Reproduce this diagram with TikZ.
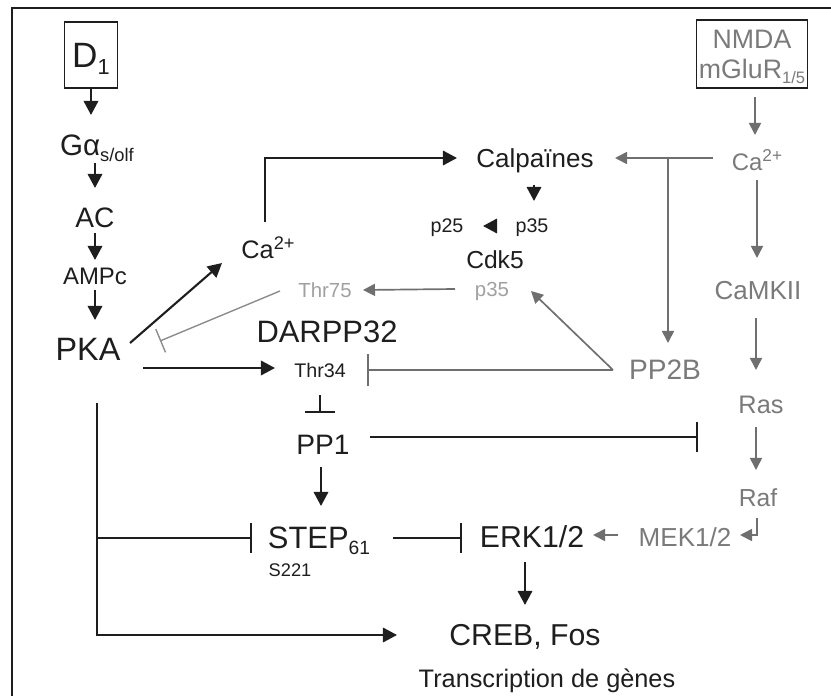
\documentclass[tikz,border=0pt]{standalone}
\usepackage{fontspec}
\setmainfont{Liberation Sans}
\usepackage{graphicx}
\usetikzlibrary{arrows.meta,calc}
\definecolor{ink}{HTML}{1E1E1E}
\definecolor{dimgrey}{HTML}{6F6F6F}
\definecolor{dimtext}{HTML}{7A7A7A}
\definecolor{paletext}{HTML}{A0A0A0}
\definecolor{paleline}{HTML}{8C8C8C}
\newcommand{\lowsc}[1]{\raisebox{-0.2em}{\scalebox{0.62}{#1}}}
\newcommand{\highsc}[1]{\raisebox{0.36em}{\scalebox{0.72}{#1}}}
\tikzset{
  lbl/.style={inner sep=0pt, text depth=0pt, text=ink},
  fs/.style={font=\fontsize{#1}{#1}\selectfont},
  glbl/.style={lbl, text=dimtext},
  plbl/.style={lbl, text=paletext},
  boxed/.style={draw=ink, line width=1.1pt, inner sep=0pt},
  frame/.style={draw=ink, line width=1.8pt},
  arr/.style={-{Triangle[length=3.5mm,width=3.6mm]}, line width=1.5pt, draw=ink},
  garr/.style={-{Triangle[length=3mm,width=3mm]}, line width=1.2pt, draw=dimgrey},
  inh/.style={-{Bar[width=7.5mm]}, line width=1.5pt, draw=ink},
  ginh/.style={-{Bar[width=8mm]}, line width=1.2pt, draw=dimgrey}}

\begin{document}
\begin{tikzpicture}[x=0.025cm, y=-0.025cm]
    \useasboundingbox (0,0) rectangle (831,696);
    \draw[frame] (12,8) rectangle (860,720);
    \node[lbl, boxed, fs=25, minimum width=1.325cm, minimum height=1.65cm] (d1) at (91,55) {D\lowsc{1}};
    \node[lbl, fs=21] (gas) at (97,145) {Gα\lowsc{s/olf}};
    \node[lbl, fs=20] (ac) at (95,218) {AC};
    \node[lbl, fs=17] (ampc) at (95,276) {AMPc};
    \node[lbl, fs=23] (pka) at (88,349) {PKA};
    \node[lbl, fs=18] (caL) at (268,248) {Ca\highsc{2+}};
    \node[lbl, fs=18.5] (calp) at (535,158) {Calpaïnes};
    \node[lbl, fs=14] (p25) at (447,226) {p25};
    \node[lbl, fs=14] (p35t) at (532,226) {p35};
    \node[lbl, fs=17.5] (cdk5) at (495,260) {Cdk5};
    \node[plbl, fs=14.5] (p35g) at (492,289) {p35};
    \node[plbl, fs=14.5] (thr75) at (325,290) {Thr75};
    \node[lbl, fs=22] (darpp) at (327,332) {DARPP32};
    \node[lbl, fs=14] (thr34) at (320,370) {Thr34};
    \node[lbl, fs=20] (pp1) at (323,445) {PP1};
    \node[lbl, fs=22] (step) at (319,538) {STEP\lowsc{61}};
    \node[lbl, fs=13] (s221) at (290,570) {S221};
    \node[lbl, fs=21.5] (erk) at (532,537) {ERK1/2};
    \node[glbl, fs=18.5] (mek) at (685,537) {MEK1/2};
    \node[lbl, fs=21.5] (creb) at (525,635) {CREB, Fos};
    \node[lbl, fs=18] (trans) at (547,678) {Transcription de gènes};
    \node[glbl, boxed, align=center, minimum width=2.775cm, minimum height=1.7cm,
          font=\fontsize{19}{21.5}\selectfont] (nmda) at (752,54) {NMDA\\mGluR\lowsc{1/5}};
    \node[glbl, fs=17] (caR) at (757,160) {Ca\highsc{2+}};
    \node[glbl, fs=18.5] (camk) at (758,290) {CaMKII};
    \node[glbl, fs=20] (pp2b) at (665,370) {PP2B};
    \node[glbl, fs=18] (ras) at (761,405) {Ras};
    \node[glbl, fs=17.5] (raf) at (758,498) {Raf};
    \coordinate (split) at ($(caR)+(-89,-2)$);
    \coordinate (trunk) at ($(pka)+(9,54)$);
    \draw[arr] (d1.south) -- ($(gas)+(-6,-30)$);
    \draw[arr] ($(gas)+(-2,18)$) -- ($(ac)+(0,-30)$);
    \draw[arr] ($(ac)+(0,15)$) -- ($(ampc)+(0,-16)$);
    \draw[arr] ($(ampc)+(0,14)$) -- ($(pka)+(7,-29)$);
    \draw[arr] ($(pka)+(42,-6)$) -- ($(caL)+(-46,15)$);
    \draw[arr] ($(caL)+(-3,-26)$) |- ($(calp)+(-78,0)$);
    \draw[arr] ($(calp)+(-1,27)$) -- ($(p35t)+(2,-25)$);
    \draw[arr] ($(p35t)+(-35,0)$) -- ($(p25)+(36,0)$);
    \draw[garr] ($(p35g)+(-37,0)$) -- ($(thr75)+(38,0)$);
    \draw[-{Bar[width=6.3mm]}, line width=1pt, draw=paleline] ($(thr75)+(-45,1)$) -- ($(pka)+(72,-8)$);
    \draw[arr] ($(pka)+(55,19)$) -- ($(thr34)+(-45,-2)$);
    \draw[ginh] ($(pp2b)+(-52,0)$) -- ($(thr34)+(47,0)$);
    \draw[garr] ($(pp2b)+(-52,0)$) -- ($(p35g)+(39,2)$);
    \draw[garr] ($(caR)+(-44,-2)$) -- ($(calp)+(80,0)$);
    \draw[garr] (split) -- ($(pp2b)+(3,-27)$);
    \draw[garr] ($(nmda)+(3,43)$) -- ($(caR)+(-2,-25)$);
    \draw[garr] ($(caR)+(0,20)$) -- ($(camk)+(-1,-32)$);
    \draw[garr] ($(camk)+(-2,28)$) -- ($(ras)+(-5,-35)$);
    \draw[garr] ($(ras)+(-5,22)$) -- ($(raf)+(-2,-28)$);
    \draw[garr] ($(raf)+(-1,20)$) |- ($(mek)+(55,-2)$);
    \draw[garr] ($(mek)+(-67,-2)$) -- ($(erk)+(61,-2)$);
    \draw[inh] ($(pp1)+(47,-8)$) -- ($(ras)+(-63,32)$);
    \draw[inh] ($(thr34)+(0,25)$) -- ($(pp1)+(-3,-32)$);
    \draw[arr] ($(pp1)+(-2,22)$) -- ($(step)+(2,-32)$);
    \draw[arr] (trunk) |- ($(creb)+(-128,0)$);
    \draw[inh] (trunk |- step) -- ($(step)+(-67,0)$);
    \draw[inh] ($(step)+(74,0)$) -- ($(erk)+(-70,1)$);
    \draw[arr] ($(erk)+(-7,25)$) -- ($(creb)+(0,-30)$);
  \end{tikzpicture}
\end{document}
